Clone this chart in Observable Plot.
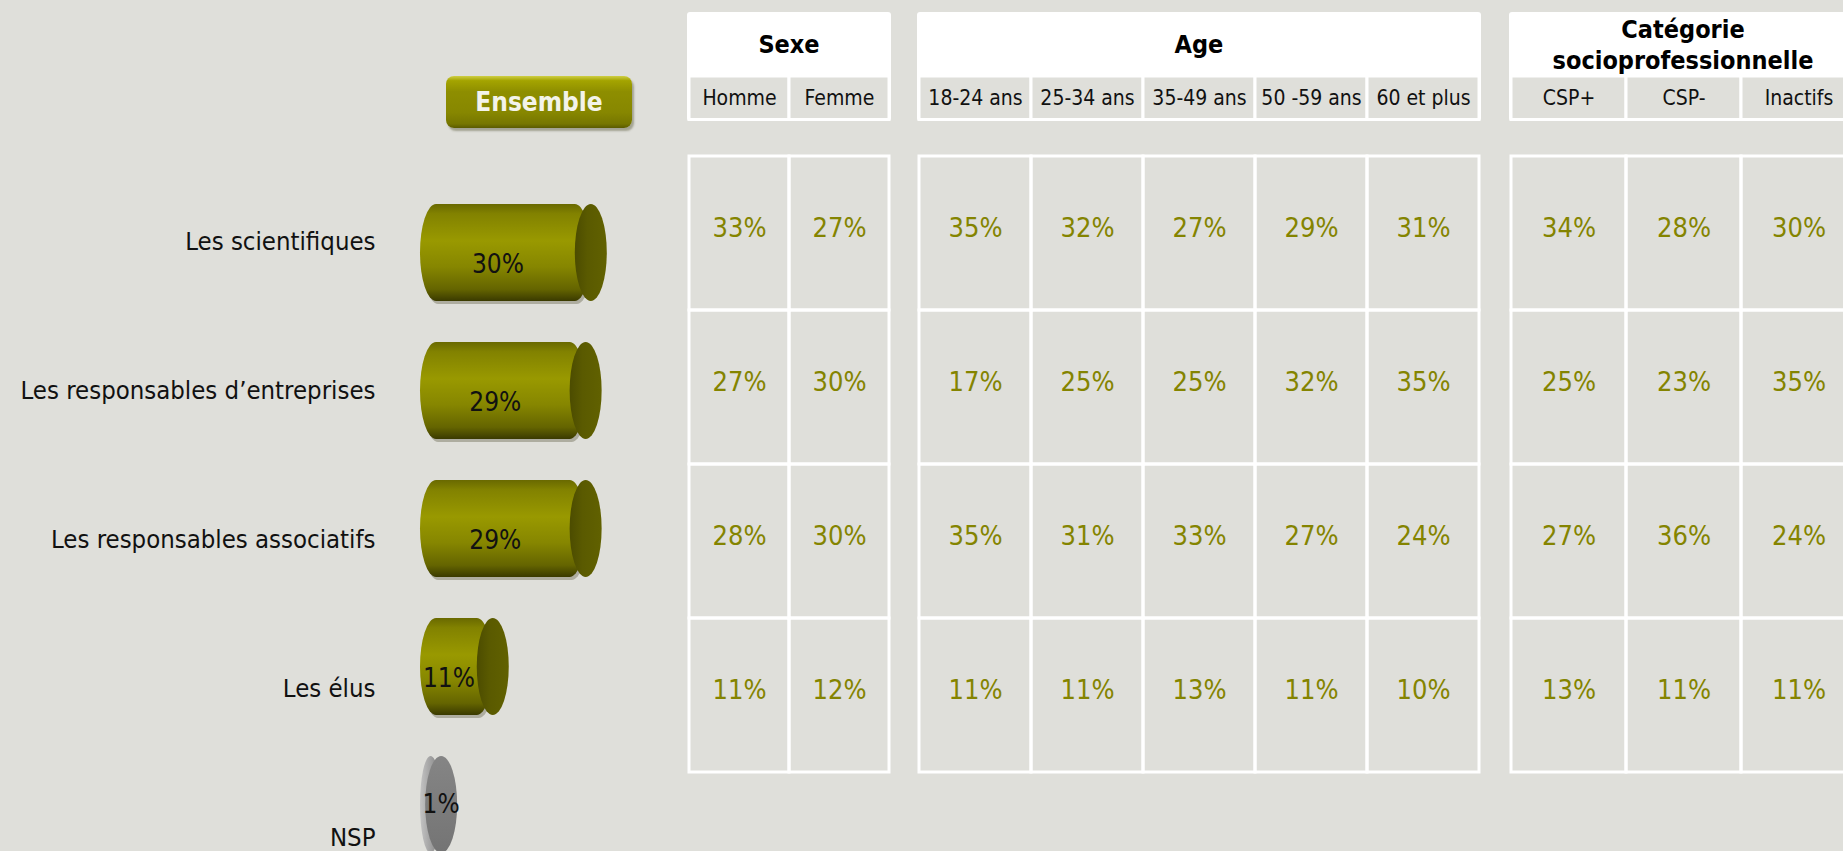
<!DOCTYPE html>
<html>
<head>
<meta charset="utf-8">
<script src="https://cdn.jsdelivr.net/npm/d3@7"></script>
<script src="https://cdn.jsdelivr.net/npm/@observablehq/plot@0.6"></script>
<style>
  html, body { margin: 0; padding: 0; background: #dfdfda; }
  #root { position: relative; width: 1843px; height: 851px; overflow: hidden; background: #dfdfda;
          font-family: "DejaVu Sans Condensed", "DejaVu Sans", sans-serif; font-stretch: condensed; }
  #root svg { position: absolute; max-width: none; background: transparent; }
  .hdr { position: absolute; top: 12px; height: 109px; background: #fff; border-radius: 3px; }
  .hdr .t { position: absolute; left: 0; right: 0; top: 0; height: 65px; display: flex; flex-direction: column;
            justify-content: center; align-items: center; font-weight: bold; font-size: 25px; line-height: 31px; color: #000; }
  #ens { position: absolute; left: 446px; top: 76px; width: 186px; height: 52px; border-radius: 8px;
         background: linear-gradient(#cfcf45 0%, #a4a400 9%, #8e8e00 30%, #878700 70%, #767600 92%, #5a5a00 100%);
         box-shadow: 2px 3px 2px rgba(90, 90, 60, 0.45);
         color: #f3f3ea; font-weight: bold; font-size: 26px; display: flex; align-items: center; justify-content: center; }
</style>
</head>
<body>
<svg width="0" height="0" style="position:absolute">
  <defs>
    <linearGradient id="gOlive" x1="0" y1="0" x2="0" y2="1">
      <stop offset="0" stop-color="#696900"/>
      <stop offset="0.1" stop-color="#828200"/>
      <stop offset="0.38" stop-color="#999900"/>
      <stop offset="0.65" stop-color="#868600"/>
      <stop offset="0.88" stop-color="#646400"/>
      <stop offset="1" stop-color="#3a3a00"/>
    </linearGradient>
    <linearGradient id="gOliveCap" x1="0" y1="0" x2="1" y2="0">
      <stop offset="0" stop-color="#4c4c00"/>
      <stop offset="0.4" stop-color="#5a5a00"/>
      <stop offset="1" stop-color="#616100"/>
    </linearGradient>
    <linearGradient id="gGrayBody" x1="0" y1="0" x2="1" y2="0">
      <stop offset="0" stop-color="#c4c4c4"/>
      <stop offset="0.6" stop-color="#9a9a9a"/>
      <stop offset="1" stop-color="#7a7a7a"/>
    </linearGradient>
    <linearGradient id="gGrayCap" x1="0" y1="0" x2="0" y2="1">
      <stop offset="0" stop-color="#858585"/>
      <stop offset="1" stop-color="#747474"/>
    </linearGradient>
  </defs>
</svg>
<div id="root"></div>
<script>
const bg = "#dfdfda";
const valueColor = "#848400";

// ---- data ----
const categories = ["Les scientifiques", "Les responsables d’entreprises", "Les responsables associatifs", "Les élus", "NSP"];
const ensemble = [30, 29, 29, 11, 1];
const tableRows = categories.slice(0, 4);

const sexeCols = ["Homme", "Femme"];
const sexeValues = [[33, 27, 28, 11], [27, 30, 30, 12]];

const ageCols = ["18-24 ans", "25-34 ans", "35-49 ans", "50 -59 ans", "60 et plus"];
const ageValues = [[35, 17, 35, 11], [32, 25, 31, 11], [27, 25, 33, 13], [29, 32, 27, 11], [31, 35, 24, 10]];

const cspCols = ["CSP+", "CSP-", "Inactifs"];
const cspValues = [[34, 25, 27, 13], [28, 23, 36, 11], [30, 35, 24, 11]];

const sexeTitle = ["Sexe"];
const ageTitle = ["Age"];
const cspTitle = ["Catégorie", "socioprofessionnelle"];
const ensembleLabel = "Ensemble";

// ---- layout ----
const root = document.getElementById("root");
const FONT = "\"DejaVu Sans Condensed\", \"DejaVu Sans\", sans-serif";

function place(node, left, top) {
  node.style.left = left + "px";
  node.style.top = top + "px";
  root.appendChild(node);
}

// Ensemble button
const ens = document.createElement("div");
ens.id = "ens";
ens.textContent = ensembleLabel;
root.appendChild(ens);

// Cylinders
const ensData = categories.map((c, i) => ({cat: c, value: ensemble[i], nsp: c === "NSP"}));
const olive = ensData.filter(d => !d.nsp);
const gray = ensData.filter(d => d.nsp);
const RX = 16, RY = 48.5;

const cyl = Plot.plot({
  width: 680, height: 851, margin: 0,
  style: {background: "transparent", fontFamily: FONT, fontStretch: "condensed"},
  x: {domain: [0, 30], range: [436, 590.8], axis: null},
  y: {type: "band", domain: categories, range: [161, 895], padding: 0.3, axis: null},
  marks: [
    Plot.barX(olive, {x1: 0, x2: "value", y: "cat", insetLeft: -RX, insetRight: 0, rx: RX, ry: RY, fill: "#aeada0", dy: 3, dx: 2}),
    Plot.barX(olive, {x1: 0, x2: "value", y: "cat", insetLeft: -RX, insetRight: 0, rx: RX, ry: RY, fill: "url(#gOlive)"}),
    Plot.barX(olive, {x1: "value", x2: "value", y: "cat", insetLeft: -RX, insetRight: -RX, rx: RX, ry: RY, fill: "url(#gOliveCap)"}),
    Plot.barX(gray, {x1: 0, x2: "value", y: "cat", insetLeft: -RX, insetRight: 0, rx: RX, ry: RY, fill: "url(#gGrayBody)"}),
    Plot.barX(gray, {x1: "value", x2: "value", y: "cat", insetLeft: -RX, insetRight: -RX, rx: RX, ry: RY, fill: "url(#gGrayCap)"}),
    Plot.text(olive, {x: d => d.value / 2, y: "cat", text: d => d.value + "%", dx: -RX, dy: 12, fontSize: 26, fill: "#111"}),
    Plot.text(gray, {x: 0, y: "cat", text: d => d.value + "%", textAnchor: "start", dx: -14, dy: 0, fontSize: 26, fill: "#111"})
  ]
});
place(cyl, 0, 0);

// Row labels
const labels = Plot.plot({
  width: 680, height: 851, margin: 0, marginRight: 305,
  style: {background: "transparent", fontFamily: FONT, fontStretch: "condensed"},
  y: {type: "point", domain: categories, range: [241, 837], padding: 0, axis: null},
  marks: [
    Plot.text(categories, {y: d => d, text: d => d, frameAnchor: "right", textAnchor: "end", fontSize: 25.5, fill: "#111"})
  ]
});
place(labels, 0, 0);

// Table groups
function group(cols, values, titleLines, left, W) {
  const hdr = document.createElement("div");
  hdr.className = "hdr";
  hdr.style.width = W + "px";
  const t = document.createElement("div");
  t.className = "t";
  titleLines.forEach(s => { const sp = document.createElement("div"); sp.textContent = s; t.appendChild(sp); });
  hdr.appendChild(t);
  place(hdr, left, 12);

  const xOpt = {type: "band", domain: cols, range: [4.5, W + 1.5], padding: 0, axis: null};

  const sub = Plot.plot({
    width: W + 6, height: 50, margin: 0, marginTop: 4, marginBottom: 2.5,
    style: {background: "transparent", fontFamily: FONT, fontStretch: "condensed"},
    x: xOpt,
    marks: [
      Plot.cell(cols, {x: d => d, fill: bg, stroke: "white", strokeWidth: 3, inset: 0}),
      Plot.text(cols, {x: d => d, text: d => d, fontSize: 21, fill: "#111"})
    ]
  });
  place(sub, left - 3, 72);

  const data = cols.flatMap((c, j) => tableRows.map((r, i) => ({col: c, row: r, v: values[j][i]})));
  const tab = Plot.plot({
    width: W + 6, height: 650, margin: 0,
    style: {background: "transparent", fontFamily: FONT, fontStretch: "condensed"},
    x: xOpt,
    y: {type: "band", domain: tableRows, range: [14.5, 633.5], padding: 0, axis: null},
    marks: [
      Plot.cell(data, {x: "col", y: "row", fill: "none", stroke: "white", strokeWidth: 3, inset: 0}),
      Plot.text(data, {x: "col", y: "row", text: d => d.v + "%", fill: valueColor, fontSize: 27, dy: -5})
    ]
  });
  place(tab, left - 3, 140);
}

group(sexeCols, sexeValues, sexeTitle, 687, 204);
group(ageCols, ageValues, ageTitle, 917, 564);
group(cspCols, cspValues, cspTitle, 1509, 348);
</script>
</body>
</html>
